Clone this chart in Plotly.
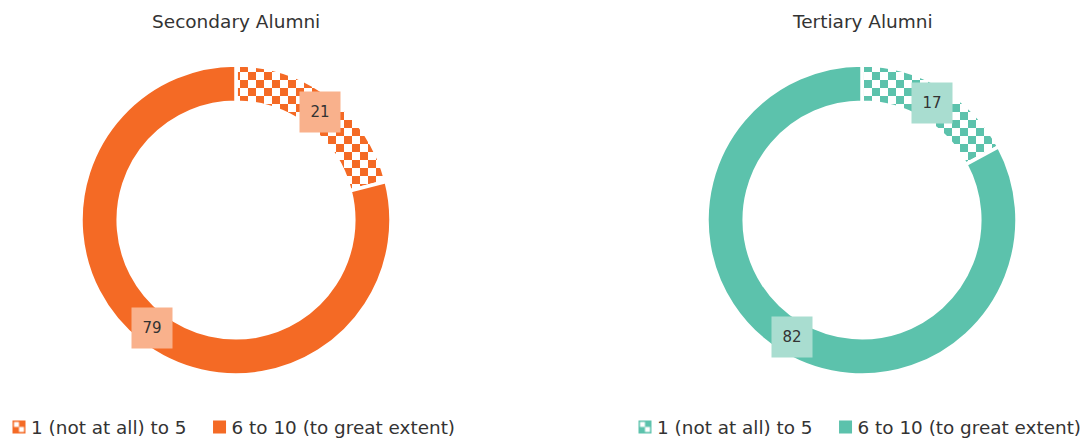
import math
import plotly.graph_objects as go

W, H = 1092, 439

categories = ["1 (not at all) to 5", "6 to 10 (to great extent)"]
secondary_values = [21, 79]
tertiary_values = [17, 82]
titles = ["Secondary Alumni", "Tertiary Alumni"]

orange = "#F46A25"
orange_light = "#F9B18C"
teal = "#5CC2AC"
teal_light = "#A9DDD0"
font_family = "'DejaVu Sans', sans-serif"
text_color = "#333333"

# pie geometry (pixels)
R = 155
hole = 0.76
centers = [(236, 220), (862, 220)]

fig = go.Figure()

specs = [
    (secondary_values, orange, orange_light, "legend", "secondary"),
    (tertiary_values, teal, teal_light, "legend2", "tertiary"),
]

for i, ((vals, col, lcol, leg, grp), (cx, cy)) in enumerate(zip(specs, centers)):
    dom_x = [(cx - R) / W, (cx + R) / W]
    dom_y = [(H - cy - R) / H, (H - cy + R) / H]
    fig.add_trace(go.Pie(
        labels=categories,
        values=vals,
        hole=hole,
        sort=False,
        direction="clockwise",
        rotation=0,
        textinfo="none",
        domain=dict(x=dom_x, y=dom_y),
        marker=dict(
            colors=[col, col],
            line=dict(color="white", width=3.5),
            pattern=dict(shape=[".", ""], fgcolor=col, bgcolor="white",
                         size=16, solidity=0.5, fillmode="replace"),
        ),
        legend=leg,
        legendgroup=grp,
        showlegend=True,
    ))
    # value labels in boxes at slice mid-angles
    total = sum(vals)
    cum = 0
    rl = R * (1 + hole) / 2
    for v in vals:
        mid = (cum + v / 2) / total * 2 * math.pi
        cum += v
        px = cx + rl * math.sin(mid)
        py = cy - rl * math.cos(mid)
        fig.add_annotation(
            x=px / W, y=(H - py) / H, xref="paper", yref="paper",
            xanchor="center", yanchor="middle",
            text=str(v), showarrow=False,
            font=dict(family=font_family, size=15, color=text_color),
            bgcolor=lcol, width=40, height=40, borderpad=0,
            align="center", valign="middle",
        )
    fig.add_annotation(
        x=cx / W, y=(H - 22) / H, xref="paper", yref="paper",
        text=titles[i], showarrow=False,
        font=dict(family=font_family, size=18.5, color=text_color),
        xanchor="center", yanchor="middle",
    )

legend_common = dict(
    orientation="h",
    yanchor="middle",
    xanchor="left",
    traceorder="normal",
    font=dict(family=font_family, size=18.4, color=text_color),
    bgcolor="rgba(0,0,0,0)",
    itemclick=False,
    itemdoubleclick=False,
)

fig.update_layout(
    width=W, height=H,
    margin=dict(l=0, r=0, t=0, b=0, autoexpand=False),
    paper_bgcolor="white",
    plot_bgcolor="white",
    legend=dict(x=-9 / W, y=(H - 427) / H, **legend_common),
    legend2=dict(x=617 / W, y=(H - 427) / H, **legend_common),
    font=dict(family=font_family, color=text_color),
)

# turn the dot pattern tiles into checkerboard tiles; restyle legend swatches
post_js = """
(function(){
  var NS = 'http://www.w3.org/2000/svg';
  var gd = document.getElementById('{plot_id}');
  function rect(p, x, y, w, h, f){
    var e = document.createElementNS(NS, 'rect');
    e.setAttribute('x', x); e.setAttribute('y', y);
    e.setAttribute('width', w); e.setAttribute('height', h);
    e.setAttribute('fill', f);
    p.appendChild(e);
  }
  function fgOf(p){
    if(p.getAttribute('data-fg')) return p.getAttribute('data-fg');
    var c = p.querySelector('circle');
    if(!c) return null;
    var fg = c.style.fill || c.getAttribute('fill') || window.getComputedStyle(c).fill;
    p.setAttribute('data-fg', fg);
    return fg;
  }
  function toChecker(){
    document.querySelectorAll('pattern').forEach(function(p){
      if(p.getAttribute('data-done')) return;
      var fg = fgOf(p);
      if(!fg) return;
      var s = parseFloat(p.getAttribute('width'));
      var h = s / 2;
      while(p.firstChild) p.removeChild(p.firstChild);
      rect(p, 0, 0, s, s, '#ffffff');
      rect(p, 0, 0, h, h, fg);
      rect(p, h, h, h, h, fg);
      p.setAttribute('data-done', '1');
    });
    var k = 0;
    document.querySelectorAll('path.legendpie').forEach(function(path){
      if(path.getAttribute('data-done')) return;
      path.setAttribute('d', 'M6.5,6.5H-6.5V-6.5H6.5Z');
      path.setAttribute('transform', 'translate(28,0)');
      var f = (path.style.fill || '') + ' ' + (path.getAttribute('fill') || '') +
              ' ' + (window.getComputedStyle(path).fill || '');
      var m = f.match(/url\\(\\s*["']?#([^"')\\s]+)/);
      if(m){
        var src = document.getElementById(m[1]);
        var fg = src ? (src.getAttribute('data-fg') || fgOf(src)) : null;
        if(fg){
          var np = document.createElementNS(NS, 'pattern');
          var id = 'legchk' + (k++) + Math.random().toString(36).slice(2);
          np.setAttribute('id', id);
          np.setAttribute('patternUnits', 'userSpaceOnUse');
          np.setAttribute('x', -6.5); np.setAttribute('y', -6.5);
          np.setAttribute('width', 13); np.setAttribute('height', 13);
          rect(np, 0, 0, 13, 13, fg);
          rect(np, 1.5, 1.5, 5, 5, '#ffffff');
          rect(np, 6.5, 6.5, 5, 5, '#ffffff');
          src.parentNode.appendChild(np);
          path.style.fill = 'url(#' + id + ')';
          path.setAttribute('fill', 'url(#' + id + ')');
        }
      }
      path.style.strokeWidth = '0px';
      path.setAttribute('data-done', '1');
    });
  }
  toChecker();
  if(gd && gd.on){ gd.on('plotly_afterplot', toChecker); }
})();
"""

fig.write_html("out.html", post_script=post_js)
